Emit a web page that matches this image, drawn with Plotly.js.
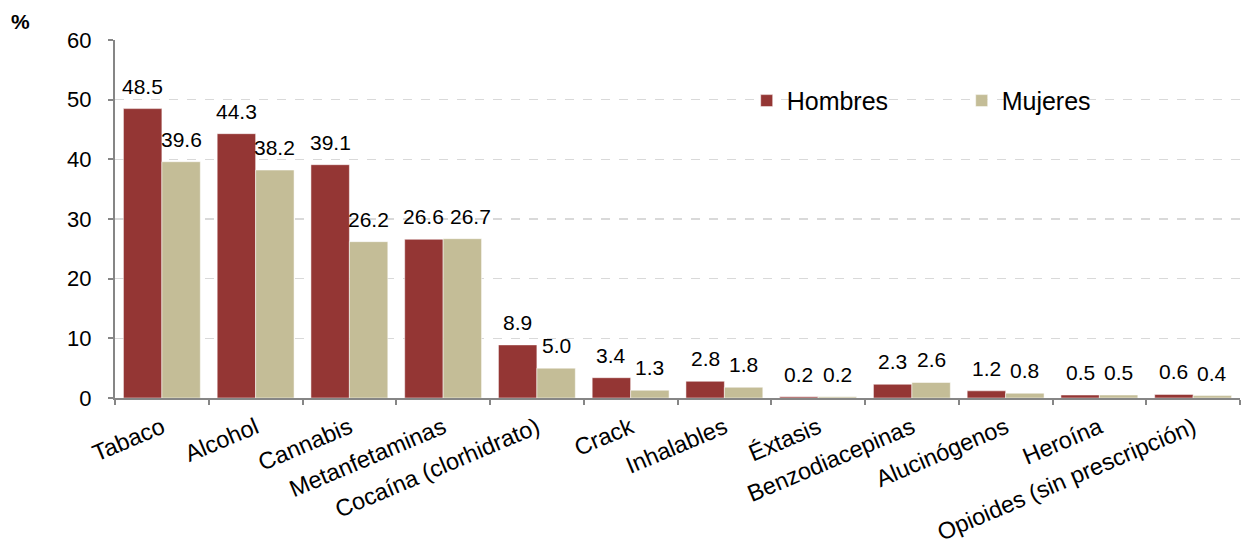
<!DOCTYPE html>
<html><head><meta charset="utf-8">
<script src="https://cdn.plot.ly/plotly-3.0.1.min.js"></script>
<style>body{margin:0;}#c{width:1243px;height:548px;}</style>
</head><body><div id="c"></div>
<script>
const categories = ["Tabaco","Alcohol","Cannabis","Metanfetaminas","Cocaína (clorhidrato)","Crack","Inhalables","Éxtasis","Benzodiacepinas","Alucinógenos","Heroína","Opioides (sin prescripción)"];
const hombres = [48.5,44.3,39.1,26.6,8.9,3.4,2.8,0.2,2.3,1.2,0.5,0.6];
const mujeres = [39.6,38.2,26.2,26.7,5.0,1.3,1.8,0.2,2.6,0.8,0.5,0.4];
const yTicks = [0,10,20,30,40,50,60];

const font = "Liberation Sans, Arial, sans-serif";
const W = 1243, H = 548, ML = 115, MR = 3;
const catW = (W - ML - MR) / categories.length;
const barW = catW * (1 - 0.18) / 2;

const mk = (name, vals, color) => ({
  type: "bar", name: name, x: categories, y: vals,
  marker: {color: color, line: {color: "#ffffff", width: 0.5}},
  cliponaxis: false, hoverinfo: "skip"
});
const data = [mk("Hombres", hombres, "#943634"), mk("Mujeres", mujeres, "#C4BD97")];

// value labels above each bar, built from the data arrays
const annotations = [];
categories.forEach((c, i) => {
  const close = Math.abs(hombres[i] - mujeres[i]) < 1.5 && Math.min(hombres[i], mujeres[i]) >= 10;
  annotations.push({x: c, y: hombres[i], text: hombres[i].toFixed(1), showarrow: false,
    xanchor: "center", yanchor: "bottom", xshift: -barW / 2, yshift: 9,
    font: {family: font, size: 21, color: "#000"}});
  annotations.push({x: c, y: mujeres[i], text: mujeres[i].toFixed(1), showarrow: false,
    xanchor: "center", yanchor: "bottom", xshift: barW / 2 + (close ? 8 : 0), yshift: 9,
    font: {family: font, size: 21, color: "#000"}});
});
annotations.push({text: "<b>%</b>", xref: "paper", yref: "paper", x: -0.0836, y: 1.053,
  xanchor: "center", yanchor: "middle", showarrow: false, font: {family: font, size: 21}});

const layout = {
  width: W, height: H,
  margin: {l: ML, r: MR, t: 40, b: 150},
  paper_bgcolor: "#fff", plot_bgcolor: "#fff",
  font: {family: font, color: "#000"},
  barmode: "group", bargap: 0.18, bargroupgap: 0,
  showlegend: true,
  legend: {orientation: "h", x: 0.5615, y: 0.83, xanchor: "left", yanchor: "middle",
    font: {family: font, size: 25}, entrywidth: 170, entrywidthmode: "pixels",
    bgcolor: "rgba(0,0,0,0)"},
  xaxis: {type: "category", tickangle: -23, tickfont: {family: font, size: 23.5},
    ticklabelstandoff: 5,
    showline: true, linecolor: "#868686", linewidth: 2, ticks: "outside", tickson: "boundaries",
    ticklen: 5, tickcolor: "#868686", tickwidth: 2, showgrid: false, automargin: false},
  yaxis: {range: [0, 60], tickvals: yTicks, ticktext: yTicks.map(String),
    tickfont: {family: font, size: 22}, ticklabelstandoff: 12,
    showline: true, linecolor: "#868686", linewidth: 2,
    ticks: "outside", ticklen: 5, tickcolor: "#868686", tickwidth: 2,
    showgrid: true, gridcolor: "#D9D9D9", griddash: "dash", gridwidth: 1.5,
    zeroline: false, automargin: false},
  annotations: annotations
};
Plotly.newPlot("c", data, layout, {displayModeBar: false, staticPlot: true});
</script></body></html>
